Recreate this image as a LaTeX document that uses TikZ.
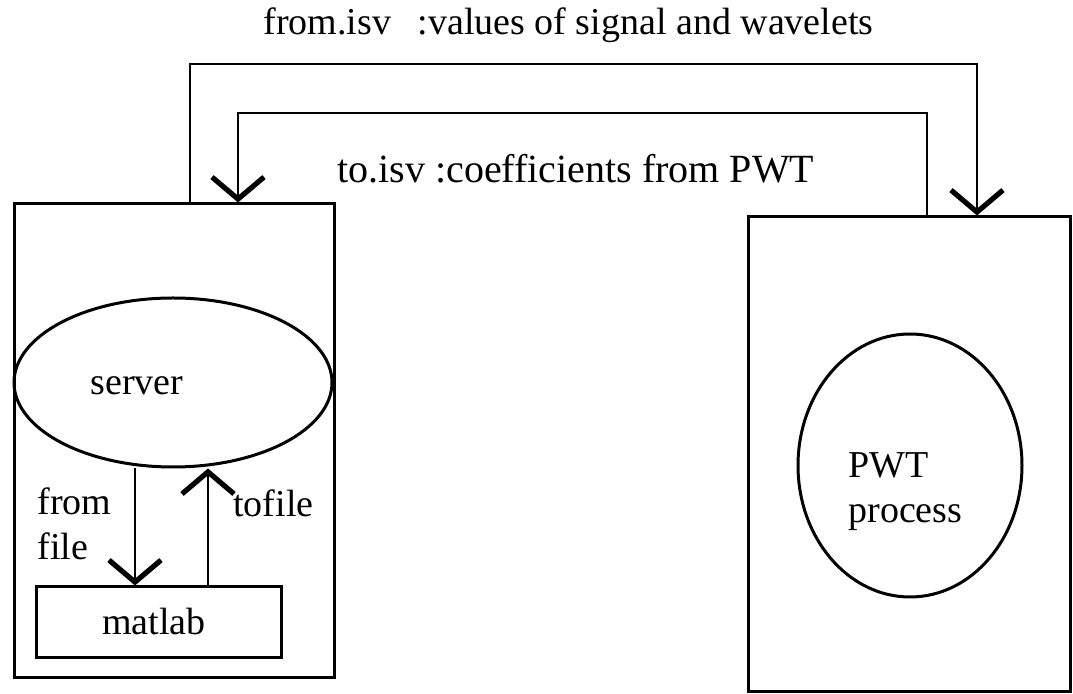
\documentclass[tikz,border=0pt]{standalone}
\usepackage{fontspec}
\setmainfont{Liberation Serif}
\usetikzlibrary{arrows.meta,shapes.geometric}
\begin{document}
\begin{tikzpicture}[x=0.5pt,y=-0.5pt,
  box/.style={draw,line width=1.5pt,inner sep=0pt},
  oval/.style={draw,ellipse,line width=1.5pt,inner sep=0pt},
  conn/.style={line width=1.4pt,-{Straight Barb[length=11pt,width=26pt,line width=2.6pt]}},
  lbl/.style={font=\fontsize{19}{22.5}\selectfont,inner sep=0pt},
  ttl/.style={font=\fontsize{20}{24}\selectfont,inner sep=0pt}]
\useasboundingbox (0,0) rectangle (1073,694);
% boxes
\node[box,minimum width=160pt,minimum height=237pt] (lbox) at (174,441) {};
\node[box,minimum width=161pt,minimum height=237.5pt] (rbox) at (909,454.5) {};
\node[oval,minimum width=159pt,minimum height=84.5pt] (server) at (173,382.5) {};
\node[oval,minimum width=112pt,minimum height=131.5pt] (pwt) at (910,465.5) {};
\node[box,minimum width=122.5pt,minimum height=35.5pt] (matlab) at (158.5,622.5) {};
% texts
\node[lbl,anchor=base] (servertxt) at (137,395) {server};
\node[lbl,anchor=base] (matlabtxt) at (154,635) {matlab};
\node[lbl,anchor=base west,align=left] (fromfile) at (37,560) {from\\file};
\node[lbl,anchor=base west] (tofile) at (233,517) {tofile};
\node[lbl,anchor=base west,align=left] (pwttxt) at (848,523) {PWT\\process};
\node[lbl,anchor=base west] (t1) at (263,35) {from.isv\hspace{0.7em}:values of signal and wavelets};
\node[ttl,anchor=base west] (t2) at (337,183) {to.isv :coefficients from PWT};
% connector coordinates
\coordinate (o1) at (190,64);
\coordinate (o2) at (977,64);
\coordinate (i1) at (927,113);
\coordinate (i2) at (238,113);
\coordinate (fx) at (135,0);
\coordinate (tx) at (208,0);
% connectors
\draw[conn] (o1 |- lbox.north) -- (o1) -- (o2) -- (o2 |- rbox.north);
\draw[conn] (i1 |- rbox.north) -- (i1) -- (i2) -- (i2 |- lbox.north);
\draw[conn] (fx |- server.south) -- (fx |- matlab.north);
\draw[conn] (tx |- matlab.north) -- (tx |- server.south);
\end{tikzpicture}
\end{document}
